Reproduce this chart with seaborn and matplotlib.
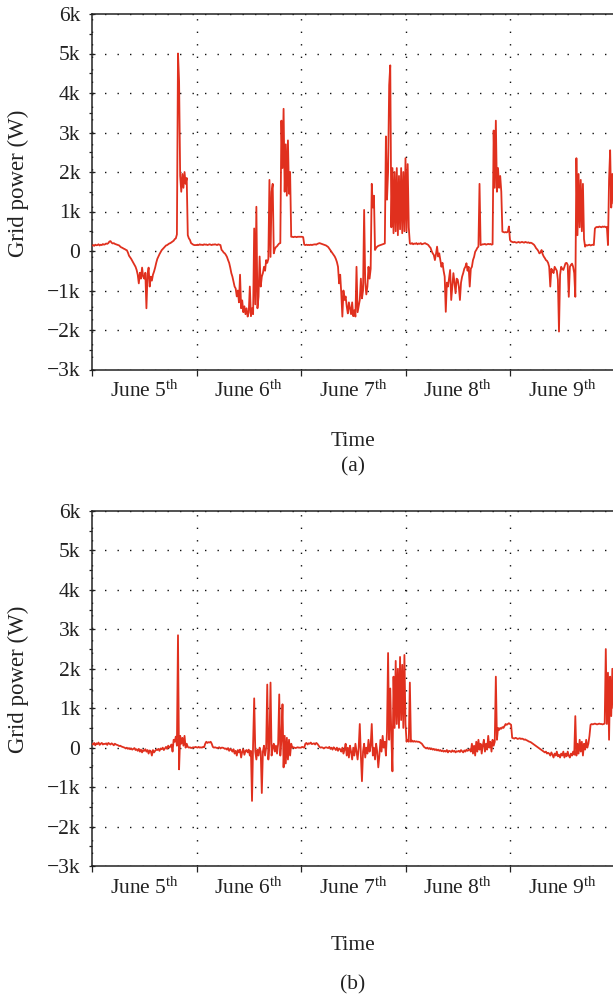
import numpy as np
import pandas as pd
import matplotlib
matplotlib.use("Agg")
import matplotlib.pyplot as plt
import seaborn as sns
from matplotlib.ticker import FixedLocator, MultipleLocator, FuncFormatter

# grid power in W, one reading every 15 min (96 per day)
# (a)
june5_a = [140, 150, 130, 160, 145, 150, 170, 140, 160, 150, 175, 160,
           170, 190, 180, 200, 240, 250, 210, 190, 200, 180, 170, 160,
           150, 140, 110, 90, 80, 60, 50, 30, 20, -40, -120, -160,
           -200, -250, -300, -350, -400, -480, -600, -820, -550, -700, -420, -650,
           -700, -550, -1450, -600, -420, -900, -650, -750, -600, -520, -420, -300,
           -200, -140, -80, -30, 20, 50, 80, 110, 140, 150, 170, 190,
           200, 220, 240, 260, 300, 320, 420, 5000, 4300, 1900, 1500, 1950,
           1600, 2000, 1700, 1850, 400, 320, 280, 200, 180, 160, 150, 150]
june6_a = [150, 160, 150, 170, 155, 160, 150, 170, 160, 165, 150, 160,
           170, 160, 150, 165, 160, 170, 160, 150, 170, 160, 150, 30,
           0, -40, -60, -100, -150, -230, -300, -420, -560, -650, -780, -900,
           -950, -1150, -1000, -1300, -600, -1450, -1250, -1550, -1400, -1600, -1450, -1660,
           -1550, -900, -1650, -1450, -1600, 570, -1350, 1120, -1450, -1150, -140, -900,
           -650, -560, -400, -500, -230, -300, -200, 1800, -150, 1500, 1700, -60,
           50, 100, 120, 160, 190, 200, 3300, 2100, 3600, 1500, 2700, 1400,
           2800, 1450, 2000, 360, 360, 350, 360, 360, 350, 360, 360, 360]
june7_a = [360, 360, 350, 160, 150, 160, 150, 155, 150, 160, 150, 160,
           165, 170, 160, 180, 190, 200, 190, 180, 170, 160, 150, 140,
           120, 100, 60, 20, -20, -60, -100, -140, -200, -280, -400, -820,
           -600, -1070, -1660, -1000, -1240, -1150, -1400, -1580, -1300, -1450, -1600, -1300,
           -1650, -1500, -1660, -400, -1550, -1400, -1240, -700, -1200, -1000, 1040, -800,
           -1100, -900, -400, -700, -450, 1700, 1100, 1400, 25, 80, 110, 130,
           140, 150, 160, 170, 180, 190, 2900, 1300, 2000, 4200, 4700, 600,
           2100, 450, 2000, 500, 2100, 400, 1900, 550, 2100, 450, 2000, 500]
june8_a = [2350, 500, 2200, 600, 190, 180, 200, 170, 190, 180, 200, 170,
           190, 180, 200, 170, 180, 190, 200, 180, 170, 150, 110, 80,
           0, -60, -100, -230, -80, 110, -140, -60, -230, -400, -300, -500,
           -650, -1540, -800, -900, -700, -480, -1240, -900, -560, -800, -1070, -700,
           -730, -900, -1240, -800, -650, -560, -450, -400, -310, -500, -400, -900,
           -450, -400, -230, -150, -20, 25, 80, 110, 1700, 150, 160, 170,
           170, 180, 160, 170, 180, 170, 180, 160, 170, 3050, 1600, 3300,
           1500, 2100, 1600, 1900, 1500, 490, 480, 470, 480, 470, 490, 620]
june9_a = [280, 240, 230, 220, 230, 220, 210, 220, 230, 210, 220, 230,
           220, 210, 230, 220, 210, 220, 200, 210, 200, 180, 160, 120,
           70, 40, 0, -60, -40, 25, -80, -140, -180, -230, -250, -300,
           -400, -900, -450, -500, -560, -400, -450, -500, -730, -2040, -600, -400,
           -450, -480, -400, -310, -300, -350, -1160, -400, -350, -320, -400, -560,
           -1160, 2350, 400, 1950, 600, 1800, 500, 1700, 300, 110, 150, 140,
           150, 160, 140, 150, 160, 150, 570, 600, 610, 600, 620, 610,
           600, 620, 610, 620, 600, 610, 150, 1800, 2550, 1100, 1950, 1200]

# (b)
june5_b = [100, 80, 120, 60, 110, 90, 130, 70, 100, 120, 80, 100,
           90, 110, 70, 120, 100, 80, 110, 90, 60, 100, 80, 70,
           60, 40, 50, 30, 20, 10, 0, -20, 0, -30, -10, -40,
           -20, -50, -30, -10, -60, -40, -80, -30, -100, -50, -120, -60,
           -80, -40, -100, -60, -150, -70, -90, -200, -60, -120, -80, -50,
           -60, -30, -80, -20, -40, 0, -60, -20, 20, -30, 50, 0,
           30, 80, -100, 200, 150, 280, 50, 2850, -550, 300, 100, 250,
           50, 300, 0, 100, 20, 0, 10, -10, 0, 10, 0, 20]
june6_b = [10, 0, 20, 0, 10, 0, 20, 10, 100, 150, 120, 140,
           130, 150, 100, 20, 0, 10, 0, -10, 0, 10, -20, 0,
           0, -10, -30, -20, -50, -10, -80, -30, -60, -100, -40, -150,
           -80, -200, -60, -120, -50, -250, -100, -40, -180, -80, -60, -120,
           -50, -200, -80, -1350, 100, 1250, -100, -300, -50, -200, 0, -100,
           -1150, -100, 50, -200, 0, 1600, -300, 100, 1650, -200, 0, 100,
           -100, 50, -150, 100, 1350, -200, 200, 1100, -500, 300, -400, 250,
           -300, 200, -200, 100, 0, 10, 0, -10, 0, 10, 0, 0]
june7_b = [0, 20, 10, 0, 100, 120, 80, 110, 100, 130, 90, 100,
           110, 80, 120, 100, 60, 20, 0, 10, 0, -20, 0, 10,
           0, -10, 20, -30, 0, -50, 10, -20, -60, 0, -80, -20,
           -40, -100, 0, -150, -50, 100, -200, 0, -250, 50, -100, -300,
           0, -200, 100, -100, -300, 0, 600, -200, -850, -100, 100, -250,
           0, -150, 200, -100, 50, 600, -200, 0, -300, 100, -100, -500,
           -200, 200, -100, 300, 0, 150, -200, 400, 2400, 200, 1500, 300,
           -600, 1800, 500, 2200, 600, 2000, 500, 2300, 700, 2100, 500, 2350]
june8_b = [600, 150, 200, 150, 1650, 150, 180, 150, 170, 150, 160, 150,
           150, 140, 120, 100, 60, 20, 0, -20, 0, -30, -10, -40,
           -20, -50, -30, -60, -40, -70, -50, -80, -60, -90, -70, -100,
           -80, -100, -60, -120, -80, -90, -110, -70, -100, -80, -120, -90,
           -100, -80, -110, -60, -90, -120, -70, -100, -50, -80, -60, -40,
           -100, 100, -150, 50, -200, 150, -100, 200, -50, 100, -150, 50,
           200, -100, 100, -50, 300, 0, 150, -100, 200, 50, 150, 1800,
           200, 500, 450, 500, 480, 520, 500, 550, 600, 580, 600, 620]
june9_b = [600, 580, 250, 240, 230, 250, 240, 220, 230, 240, 220, 230,
           220, 200, 210, 190, 180, 160, 150, 140, 120, 100, 80, 60,
           40, 20, 0, -20, -40, -60, -80, -100, -120, -100, -150, -130,
           -150, -200, -120, -180, -250, -150, -200, -100, -220, -180, -250, -150,
           -200, -100, -250, -150, -220, -100, -200, -250, -150, -200, -100, -180,
           800, -200, 100, -150, 200, -100, 150, -200, 100, -50, 200, 0,
           100, 300, 580, 600, 590, 600, 610, 600, 590, 600, 610, 600,
           600, 590, 600, 610, 2500, 600, 1900, 200, 1800, 800, 2000, 1000]

day_labels = ["5", "6", "7", "8", "9"]
y_ticks = [-3000, -2000, -1000, 0, 1000, 2000, 3000, 4000, 5000, 6000]

sns.set_theme(style="white")
plt.rcParams['font.family'] = ['Liberation Serif', 'DejaVu Serif']
plt.rcParams['mathtext.fontset'] = 'custom'
plt.rcParams['mathtext.rm'] = 'Liberation Serif'
plt.rcParams['mathtext.it'] = 'Liberation Serif:italic'

RED = '#e0301e'
FS = 15.5
INK = '#222222'


def kfmt(v, pos):
    if v == 0:
        return "0"
    return f"{int(round(v / 1000))}k".replace("-", "\u2212")


def draw(ax, values):
    df = pd.DataFrame({'hour': np.arange(len(values)) * 0.25, 'watts': values})
    sns.lineplot(data=df, x='hour', y='watts', ax=ax, color=RED, lw=1.3,
                 estimator=None, zorder=3)
    ax.set_xlim(0, 120)
    ax.set_ylim(-3000, 6000)
    ax.yaxis.set_major_locator(FixedLocator(y_ticks))
    ax.yaxis.set_minor_locator(MultipleLocator(500))
    ax.yaxis.set_major_formatter(FuncFormatter(kfmt))
    ax.xaxis.set_major_locator(FixedLocator([0, 24, 48, 72, 96, 120]))
    ax.xaxis.set_minor_locator(FixedLocator([12, 36, 60, 84, 108]))
    ax.xaxis.set_major_formatter(FuncFormatter(lambda v, p: ""))
    ax.set_xticklabels(["June " + d + r"$^{\rm th}$" for d in day_labels], minor=True)
    ax.tick_params(axis='x', which='major', bottom=True, direction='out', length=4.5,
                   width=0.9, color=INK)
    ax.tick_params(axis='x', which='minor', bottom=True, length=0, pad=8,
                   labelsize=FS, labelcolor=INK)
    ax.tick_params(axis='y', which='major', left=True, direction='inout', length=5,
                   width=0.9, color=INK, pad=6, labelsize=FS, labelcolor=INK)
    ax.tick_params(axis='y', which='minor', left=True, direction='out', length=2.2,
                   width=0.9, color=INK)
    ax.grid(True, which='major', axis='both', color='#111111', lw=1.0,
            linestyle=(0, (1, 8)))
    for s in ax.spines.values():
        s.set_color(INK)
        s.set_linewidth(1.1)
    ax.set_xlabel("")
    ax.set_ylabel("Grid power (W)", fontsize=16.5, color=INK)
    ax.yaxis.set_label_coords(-0.12, 0.525)


fig = plt.figure(figsize=(6.13, 9.98), dpi=100)
ax_a = fig.add_axes([92 / 613, 1 - 369.5 / 998, 522.5 / 613, 355.5 / 998])
ax_b = fig.add_axes([92 / 613, 1 - 866 / 998, 522.5 / 613, 355 / 998])

draw(ax_a, june5_a + june6_a + june7_a + june8_a + june9_a)
draw(ax_b, june5_b + june6_b + june7_b + june8_b + june9_b)

for ty, ly, tag in [(441, 467, "(a)"), (945, 985, "(b)")]:
    fig.text(353 / 613, 1 - ty / 998, "Time", ha='center', va='center',
             fontsize=FS, color=INK)
    fig.text(353 / 613, 1 - ly / 998, tag, ha='center', va='center',
             fontsize=FS, color=INK)

fig.savefig("out.png", dpi=100)
